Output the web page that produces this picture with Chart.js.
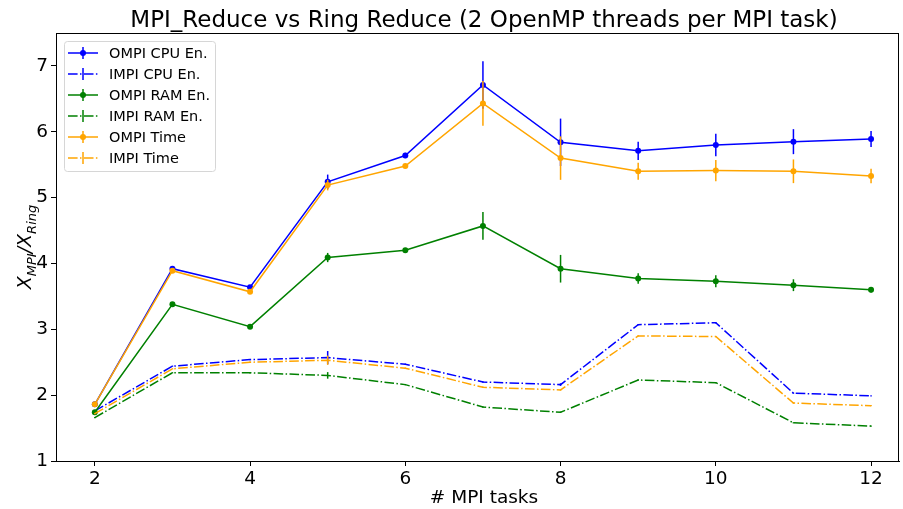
<!DOCTYPE html>
<html>
<head>
<meta charset="utf-8">
<script src="https://cdn.jsdelivr.net/npm/chart.js@4.4.1/dist/chart.umd.min.js"></script>
<style>
  body { margin: 0; background: #fff; }
  canvas { display: block; }
</style>
</head>
<body>
<canvas id="grafico" width="903" height="509"></canvas>
<script>
// Dados
const tarefas = [2, 3, 4, 5, 6, 7, 8, 9, 10, 11, 12];
const xTicks = [2, 4, 6, 8, 10, 12];
const yTicks = [1, 2, 3, 4, 5, 6, 7];

const ompiCpu    = [1.86, 3.92, 3.64, 5.24, 5.64, 6.71, 5.84, 5.71, 5.80, 5.85, 5.89];
const ompiCpuErr = [0.02, 0.03, 0.02, 0.11, 0.04, 0.36, 0.36, 0.14, 0.17, 0.19, 0.12];
const impiCpu    = [1.76, 2.44, 2.54, 2.57, 2.47, 2.20, 2.16, 3.07, 3.10, 2.03, 1.99];
const impiCpuErr = [0.01, 0.01, 0.01, 0.10, 0.01, 0.01, 0.02, 0.01, 0.01, 0.01, 0.01];
const ompiRam    = [1.74, 3.38, 3.04, 4.09, 4.20, 4.57, 3.92, 3.77, 3.73, 3.67, 3.60];
const ompiRamErr = [0.02, 0.02, 0.02, 0.07, 0.02, 0.21, 0.21, 0.08, 0.09, 0.09, 0.04];
const impiRam    = [1.66, 2.34, 2.34, 2.30, 2.16, 1.82, 1.74, 2.23, 2.19, 1.58, 1.53];
const impiRamErr = [0.01, 0.01, 0.01, 0.05, 0.01, 0.01, 0.01, 0.01, 0.01, 0.01, 0.01];
const ompiTime    = [1.86, 3.89, 3.57, 5.19, 5.48, 6.43, 5.60, 5.40, 5.41, 5.40, 5.33];
const ompiTimeErr = [0.02, 0.02, 0.02, 0.08, 0.03, 0.34, 0.33, 0.13, 0.16, 0.18, 0.11];
const impiTime    = [1.72, 2.40, 2.50, 2.53, 2.41, 2.12, 2.08, 2.90, 2.89, 1.88, 1.84];
const impiTimeErr = [0.01, 0.01, 0.01, 0.07, 0.01, 0.01, 0.01, 0.01, 0.01, 0.01, 0.01];

const AZUL = '#0000ff', VERDE = '#008000', LARANJA = '#ffa500';
const TRACO = [9.6, 2.4, 1.5, 2.4];
const FONTE = "'DejaVu Sans', sans-serif";
const CENTRO_X = 484; // centro dos eixos (a figura original está cortada à direita)

function serie(label, valores, erros, cor, tracejado, ordem) {
    return {
        label: label,
        data: tarefas.map((t, i) => ({ x: t, y: valores[i] })),
        erros: erros,
        borderColor: cor,
        backgroundColor: cor,
        borderWidth: 1.5,
        borderDash: tracejado ? TRACO : [],
        pointRadius: tracejado ? 0 : 3,
        pointBorderWidth: 0,
        pointBackgroundColor: cor,
        tension: 0,
        order: ordem
    };
}

const datasets = [
    serie('OMPI CPU En.', ompiCpu, ompiCpuErr, AZUL, false, 6),
    serie('IMPI CPU En.', impiCpu, impiCpuErr, AZUL, true, 5),
    serie('OMPI RAM En.', ompiRam, ompiRamErr, VERDE, false, 4),
    serie('IMPI RAM En.', impiRam, impiRamErr, VERDE, true, 3),
    serie('OMPI Time', ompiTime, ompiTimeErr, LARANJA, false, 2),
    serie('IMPI Time', impiTime, impiTimeErr, LARANJA, true, 1)
];

// Plugin: barras de erro, moldura, título, rótulos dos eixos e legenda
const decoracao = {
    id: 'decoracao',
    beforeDatasetDraw(chart, args) {
        const ds = chart.data.datasets[args.index];
        const x = chart.scales.x, y = chart.scales.y;
        const ctx = chart.ctx;
        ctx.save();
        ctx.strokeStyle = ds.borderColor;
        ctx.lineWidth = 1.5;
        ds.data.forEach((p, i) => {
            const px = x.getPixelForValue(p.x);
            ctx.beginPath();
            ctx.moveTo(px, y.getPixelForValue(p.y - ds.erros[i]));
            ctx.lineTo(px, y.getPixelForValue(p.y + ds.erros[i]));
            ctx.stroke();
        });
        ctx.restore();
    },
    afterDraw(chart) {
        const ctx = chart.ctx;
        const a = chart.chartArea;
        ctx.save();
        // moldura
        ctx.strokeStyle = '#000';
        ctx.lineWidth = 1;
        ctx.strokeRect(a.left + 0.5, a.top + 0.5, a.right - a.left - 1, a.bottom - a.top);

        // título
        ctx.fillStyle = '#000';
        ctx.font = '23px ' + FONTE;
        ctx.textAlign = 'center';
        ctx.textBaseline = 'middle';
        ctx.fillText('MPI_Reduce vs Ring Reduce (2 OpenMP threads per MPI task)', CENTRO_X, 21);

        // rótulo do eixo x
        ctx.font = '18.5px ' + FONTE;
        ctx.fillText('# MPI tasks', CENTRO_X, 498);

        // rótulo do eixo y: X_MPI / X_Ring
        const partes = [
            ['X', 19, 0], ['MPI', 13, 5], ['/X', 19, 0], ['Ring', 13, 5]
        ];
        let total = 0;
        partes.forEach(p => { ctx.font = 'italic ' + p[1] + 'px ' + FONTE; total += ctx.measureText(p[0]).width; });
        ctx.translate(24, (a.top + a.bottom) / 2);
        ctx.rotate(-Math.PI / 2);
        ctx.textAlign = 'left';
        ctx.textBaseline = 'alphabetic';
        let cx = -total / 2;
        partes.forEach(p => {
            ctx.font = 'italic ' + p[1] + 'px ' + FONTE;
            ctx.fillText(p[0], cx, 7 + p[2]);
            cx += ctx.measureText(p[0]).width;
        });
        ctx.restore();

        // legenda
        ctx.save();
        const lx = a.left + 8, ly = a.top + 8, lw = 151, lh = 130;
        ctx.fillStyle = 'rgba(255,255,255,0.8)';
        ctx.strokeStyle = '#d6d6d6';
        ctx.lineWidth = 1;
        ctx.beginPath();
        ctx.roundRect(lx + 0.5, ly + 0.5, lw, lh, 3);
        ctx.fill();
        ctx.stroke();
        ctx.font = '14.5px ' + FONTE;
        ctx.textBaseline = 'middle';
        ctx.textAlign = 'left';
        datasets.forEach((ds, i) => {
            const ry = ly + 12 + i * 21;
            ctx.strokeStyle = ds.borderColor;
            ctx.lineWidth = 1.5;
            ctx.setLineDash(ds.borderDash);
            ctx.beginPath();
            ctx.moveTo(lx + 4, ry);
            ctx.lineTo(lx + 34, ry);
            ctx.stroke();
            ctx.setLineDash([]);
            ctx.beginPath();
            ctx.moveTo(lx + 19, ry - 6);
            ctx.lineTo(lx + 19, ry + 6);
            ctx.stroke();
            if (ds.pointRadius > 0) {
                ctx.fillStyle = ds.borderColor;
                ctx.beginPath();
                ctx.arc(lx + 19, ry, 3, 0, Math.PI * 2);
                ctx.fill();
            }
            ctx.fillStyle = '#000';
            ctx.fillText(ds.label, lx + 45, ry + 1);
        });
        ctx.restore();
    }
};

new Chart(document.getElementById('grafico'), {
    type: 'line',
    data: { datasets: datasets },
    plugins: [decoracao],
    options: {
        responsive: false,
        animation: false,
        events: [],
        layout: { padding: { top: 33, right: 1, left: 0, bottom: 0 } },
        plugins: { legend: { display: false }, title: { display: false }, tooltip: { enabled: false } },
        scales: {
            x: {
                type: 'linear',
                min: 1.5,
                max: 12.36,
                afterBuildTicks: s => { s.ticks = xTicks.map(v => ({ value: v })); },
                afterFit: s => { s.height = 48; },
                grid: { display: true, drawOnChartArea: false, tickLength: 5, color: '#000' },
                border: { display: true, color: '#000' },
                ticks: { color: '#000', font: { family: FONTE, size: 18.5 }, padding: 2, maxRotation: 0 }
            },
            y: {
                min: 1,
                max: 7.5,
                afterBuildTicks: s => { s.ticks = yTicks.map(v => ({ value: v })); },
                afterFit: s => { s.width = 56; },
                grid: { display: true, drawOnChartArea: false, tickLength: 5, color: '#000' },
                border: { display: true, color: '#000' },
                ticks: { color: '#000', font: { family: FONTE, size: 18.5 }, padding: 3 }
            }
        }
    }
});
</script>
</body>
</html>
